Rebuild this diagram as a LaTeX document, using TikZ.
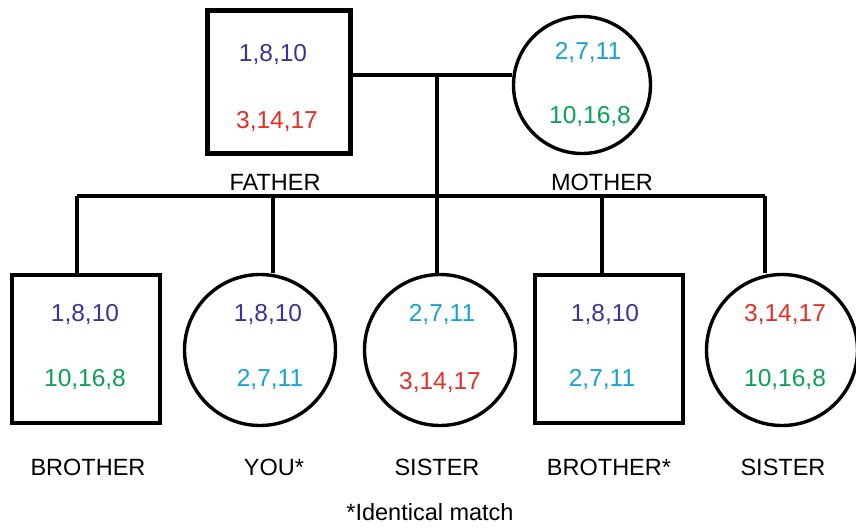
\documentclass[tikz,border=0pt]{standalone}
\usepackage{fontspec}
\setmainfont{Liberation Sans}
\definecolor{apurple}{RGB}{66,48,150}
\definecolor{ared}{RGB}{226,48,38}
\definecolor{acyan}{RGB}{22,162,214}
\definecolor{agreen}{RGB}{10,162,84}
\begin{document}
\begin{tikzpicture}[x=1pt,y=-1pt,
  male/.style={draw,line width=4.6pt,rectangle,inner sep=0pt,minimum width=#1,minimum height=#1},
  female/.style={draw,line width=3.4pt,circle,inner sep=0pt,minimum size=#1},
  link/.style={line width=4.4pt},
  gene/.style={font=\fontsize{24.5}{26}\selectfont,inner sep=0pt},
  who/.style={font=\fontsize{23.5}{26}\selectfont,inner sep=0pt}]
\useasboundingbox[fill=white] (0,0) rectangle (856,527);

% parents
\node[male=143] (father) at (279,82) {};
\node[female=137] (mother) at (582,85) {};
% children
\node[male=148] (bro1) at (86,349) {};
\node[female=151] (you) at (260,350) {};
\node[female=151] (sis1) at (440,350) {};
\node[male=148] (bro2) at (609,349) {};
\node[female=151] (sis2) at (782,350) {};

% marriage and sibship lines
\coordinate (cm) at (437,75);
\coordinate (sib) at (437,196);
\coordinate (d1) at (77,196);
\coordinate (d2) at (273,196);
\coordinate (d4) at (602,196);
\coordinate (d5) at (765,196);
\draw[link] (father.east |- cm) -- (mother.west |- cm);
\draw[link] (cm) -- (sib);
\draw[link] (d1) -- (d5);
\draw[link] (d1) -- (d1 |- bro1.north);
\draw[link] (d2) -- (d2 |- you.north);
\draw[link] (sib) -- (sib |- sis1.north);
\draw[link] (d4) -- (d4 |- bro2.north);
\draw[link] (d5) -- (d5 |- sis2.north);

% allele sets
\node[gene,text=apurple] (f1) at (273,55) {1,8,10};
\node[gene,text=ared] (f2) at (277,122) {3,14,17};
\node[gene,text=acyan] (m1) at (588,53) {2,7,11};
\node[gene,text=agreen] (m2) at (590,117) {10,16,8};

\node[gene,text=apurple] (b1a) at (85,315) {1,8,10};
\node[gene,text=agreen] (b1b) at (85,380) {10,16,8};
\node[gene,text=apurple] (ya) at (268,315) {1,8,10};
\node[gene,text=acyan] (yb) at (270,380) {2,7,11};
\node[gene,text=acyan] (s1a) at (442,315) {2,7,11};
\node[gene,text=ared] (s1b) at (440,383) {3,14,17};
\node[gene,text=apurple] (b2a) at (605,315) {1,8,10};
\node[gene,text=acyan] (b2b) at (602,380) {2,7,11};
\node[gene,text=ared] (s2a) at (785,315) {3,14,17};
\node[gene,text=agreen] (s2b) at (785,380) {10,16,8};

% labels
\node[who] (lf) at (275,182) {FATHER};
\node[who] (lm) at (602,182) {MOTHER};
\node[who] (lb1) at (88,467) {BROTHER};
\node[who] (ly) at (274,467) {YOU*};
\node[who] (ls1) at (437,467) {SISTER};
\node[who] (lb2) at (609,467) {BROTHER*};
\node[who] (ls2) at (783,467) {SISTER};
\node[who] (note) at (430,512) {*Identical match};
\end{tikzpicture}
\end{document}
